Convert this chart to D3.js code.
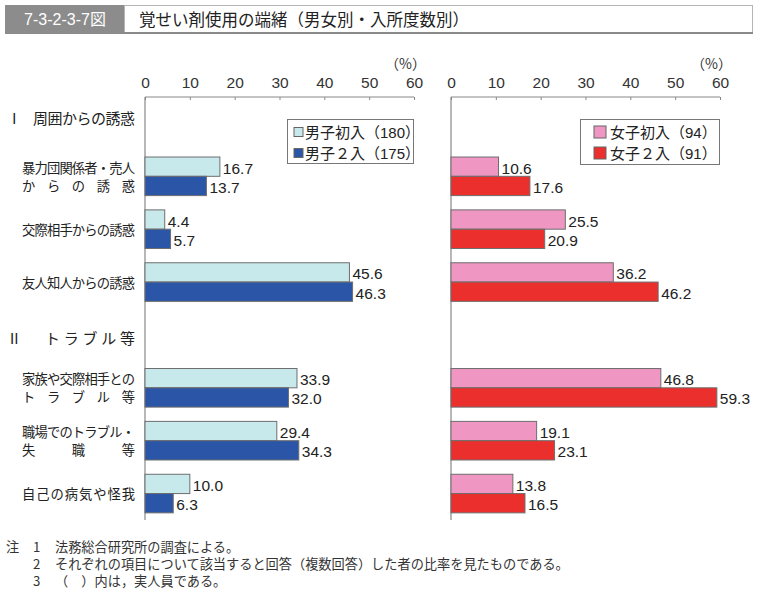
<!DOCTYPE html>
<html><head><meta charset="utf-8">
<script src="https://cdn.jsdelivr.net/npm/d3@7"></script>
<style>
body{margin:0;background:#fff;}
text{font-family:"Liberation Sans","Noto Sans CJK JP",sans-serif;}
.cjk{font-family:"Noto Sans CJK JP",sans-serif;}
</style></head><body>
<svg id="c" width="759" height="592"></svg>
<script>
const titleNo = "7-3-2-3-7図";
const titleText = "覚せい剤使用の端緒（男女別・入所度数別）";
const rows = ["H1","c1","c2","c3","H2","c4","c5","c6"];
const sectionHeaders = [{row:"H1", num:"Ⅰ", text:"周囲からの誘惑", dy:-6, x0:33}, {row:"H2", num:"Ⅱ", text:"トラブル等", dy:3, x0:45}];
const categoryRows = ["c1","c2","c3","c4","c5","c6"];
const categoryLines = [["暴力団関係者・売人","からの誘惑"],["交際相手からの誘惑"],["友人知人からの誘惑"],["家族や交際相手との","トラブル等"],["職場でのトラブル・","失職等"],["自己の病気や怪我"]];
const maleFirst = [16.7, 4.4, 45.6, 33.9, 29.4, 10.0];
const maleSecond = [13.7, 5.7, 46.3, 32.0, 34.3, 6.3];
const femaleFirst = [10.6, 25.5, 36.2, 46.8, 19.1, 13.8];
const femaleSecond = [17.6, 20.9, 46.2, 59.3, 23.1, 16.5];
const maleLegend = ["男子初入（180）","男子２入（175）"];
const femaleLegend = ["女子初入（94）","女子２入（91）"];
const tickValues = [0,10,20,30,40,50,60];
const notes = [["注","1","法務総合研究所の調査による。"],["","2","それぞれの項目について該当すると回答（複数回答）した者の比率を見たものである。"],["","3","（　）内は，実人員である。"]];

const svg = d3.select("#c");

svg.append("rect").attr("x",124.5).attr("y",5.5).attr("width",628).attr("height",27).attr("fill","#fff").attr("stroke","#b5b5b5");
svg.append("line").attr("x1",5).attr("x2",753).attr("y1",33).attr("y2",33).attr("stroke","#8a8a8a").attr("stroke-width",2);
svg.append("rect").attr("x",5).attr("y",5).attr("width",119).attr("height",28).attr("fill","#8c8c8c");
svg.append("text").attr("x",65).attr("y",19.5).attr("text-anchor","middle").attr("dominant-baseline","central")
  .attr("fill","#fff").attr("font-size",16).text(titleNo);
svg.append("text").attr("class","cjk").attr("x",139).attr("y",19).attr("dominant-baseline","central")
  .attr("fill","#222").attr("font-size",16.5).text(titleText);

const y = d3.scaleBand().domain(rows).range([97,520]).paddingInner(0).paddingOuter(0);
const yInner = d3.scaleBand().domain([0,1]).range([0,y.bandwidth()]).paddingInner(0).paddingOuter(0.37);

function panel(x0, x1, s1, s2, c1, c2, legendNames, lg) {
  const x = d3.scaleLinear().domain([0,60]).range([x0,x1]);
  const g = svg.append("g");
  const ax = g.append("g").attr("transform","translate(0,97)")
    .call(d3.axisTop(x).tickValues(tickValues).tickSize(-3).tickPadding(9).tickFormat(d3.format("d")));
  ax.select(".domain").attr("stroke","#888").attr("d",`M${x0},0H${x1}`);
  ax.selectAll(".tick line").attr("stroke","#888");
  ax.selectAll(".tick text").attr("font-size",15.5).attr("fill","#333").attr("font-family","Liberation Sans");
  g.append("line").attr("x1",x0).attr("x2",x0).attr("y1",97).attr("y2",520).attr("stroke","#888").attr("stroke-width",1.2);
  g.append("text").attr("class","cjk").attr("x",x1+12).attr("y",63).attr("text-anchor","end").attr("dominant-baseline","central")
    .attr("font-size",14).attr("fill","#333").text("（%）");
  const series = [s1, s2], colors = [c1, c2];
  series.forEach((vals, si) => {
    const data = vals.map((v,i)=>({row:categoryRows[i], v}));
    g.selectAll(null).data(data).enter().append("rect")
      .attr("x", x(0)).attr("y", d => y(d.row)+yInner(si))
      .attr("width", d => x(d.v)-x(0)).attr("height", yInner.bandwidth())
      .attr("fill", colors[si]).attr("stroke","#6e6e6e").attr("stroke-width",1);
    g.selectAll(null).data(data).enter().append("text")
      .attr("x", d => x(d.v)+3).attr("y", d => y(d.row)+yInner(si)+yInner.bandwidth()/2+1.5)
      .attr("dominant-baseline","central").attr("font-size",15.5).attr("fill","#222")
      .text(d => d3.format(".1f")(d.v));
  });
  const lgG = g.append("g");
  lgG.append("rect").attr("x",lg.x).attr("y",lg.y).attr("width",lg.w).attr("height",lg.h)
    .attr("fill","#fff").attr("stroke","#777");
  legendNames.forEach((n,i)=>{
    const cy = lg.y + 12.5 + i*21;
    lgG.append("rect").attr("x",lg.sx).attr("y",cy-lg.s/2).attr("width",lg.s).attr("height",lg.s)
      .attr("fill",colors[i]).attr("stroke","#666");
    lgG.append("text").attr("x",lg.tx).attr("y",cy).attr("dominant-baseline","central")
      .attr("font-size",15).attr("fill","#222").text(n);
  });
}

panel(145, 414, maleFirst, maleSecond, "#c8e9ec", "#2b55a6", maleLegend, {x:287.5,y:119.5,w:126,h:44,sx:294,s:9,tx:305});
panel(451, 720, femaleFirst, femaleSecond, "#ef96c3", "#eb2f2c", femaleLegend, {x:580.5,y:119.5,w:139,h:45,sx:594,s:12,tx:610});

const lab = svg.append("g");
categoryRows.forEach((r,i)=>{
  const lines = categoryLines[i];
  const cy = y(r)+y.bandwidth()/2;
  lines.forEach((t,j)=>{
    const yy = lines.length===1 ? cy : cy + (j===0 ? -9 : 9);
    lab.append("text").attr("class","cjk").attr("x",22).attr("y",yy).attr("dominant-baseline","central")
      .attr("font-size",13.3).attr("fill","#222").attr("textLength",113).attr("lengthAdjust","spacing").text(t);
  });
});
sectionHeaders.forEach(h=>{
  const cy = y(h.row)+y.bandwidth()/2+h.dy;
  lab.append("text").attr("class","cjk").attr("x",7).attr("y",cy).attr("dominant-baseline","central")
    .attr("font-size",14.5).attr("fill","#222").text(h.num);
  lab.append("text").attr("class","cjk").attr("x",h.x0).attr("y",cy).attr("dominant-baseline","central")
    .attr("font-size",15).attr("fill","#222")
    .attr("textLength",135-h.x0).attr("lengthAdjust","spacing").text(h.text);
});

notes.forEach((n,i)=>{
  const yy = 546 + i*17;
  const cols = [6,33,55];
  const t = svg.append("text").attr("class","cjk").attr("y",yy).attr("dominant-baseline","central")
      .attr("font-size",13.2).attr("fill","#333");
  n.forEach((s,j)=>{ if (s) t.append("tspan").attr("x",cols[j]).text(s); });
});
</script></body></html>
